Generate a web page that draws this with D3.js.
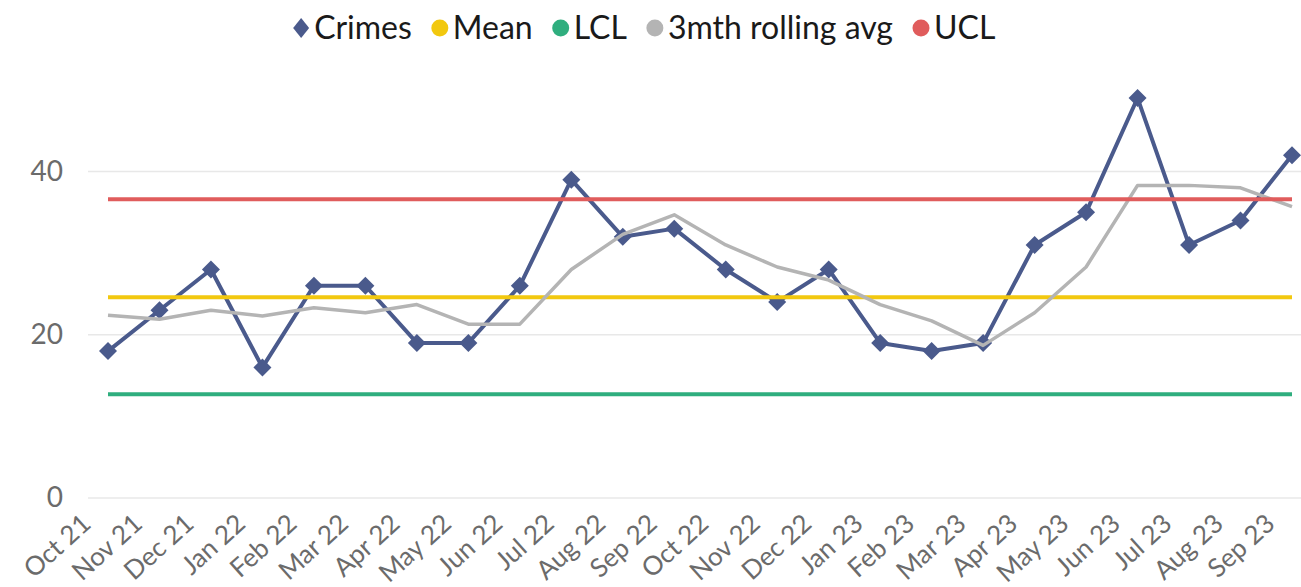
<!DOCTYPE html>
<html>
<head>
<meta charset="utf-8">
<script src="https://cdn.jsdelivr.net/npm/d3@7"></script>
<style>
  body { margin: 0; background: #fff; }
  text { font-family: Lato, "Open Sans", sans-serif; }
</style>
</head>
<body>
<div id="chart"></div>
<script>
// Datos
const months = ['Oct 21', 'Nov 21', 'Dec 21', 'Jan 22', 'Feb 22', 'Mar 22', 'Apr 22', 'May 22',
    'Jun 22', 'Jul 22', 'Aug 22', 'Sep 22', 'Oct 22', 'Nov 22', 'Dec 22', 'Jan 23',
    'Feb 23', 'Mar 23', 'Apr 23', 'May 23', 'Jun 23', 'Jul 23', 'Aug 23', 'Sep 23'];
const crimes = [18, 23, 28, 16, 26, 26, 19, 19, 26, 39, 32, 33, 28, 24, 28, 19, 18, 19, 31, 35, 49, 31, 34, 42];
const rollingAvg = [22.4, 21.9, 23.0, 22.3, 23.3, 22.7, 23.7, 21.3, 21.3, 28.0, 32.3, 34.7,
    31.0, 28.3, 26.7, 23.7, 21.7, 18.7, 22.7, 28.3, 38.3, 38.3, 38.0, 35.7];
const meanValue = 24.6;
const lclValue = 12.7;
const uclValue = 36.6;
const yTicks = [0, 20, 40];

const legendItems = [
    { name: 'Crimes', color: '#4a5a8c', shape: 'diamond' },
    { name: 'Mean', color: '#f2c80f', shape: 'circle' },
    { name: 'LCL', color: '#2fae7e', shape: 'circle' },
    { name: '3mth rolling avg', color: '#b4b4b4', shape: 'circle' },
    { name: 'UCL', color: '#e05c5c', shape: 'circle' }
];

const width = 1301;
const height = 587;

const svg = d3.select('#chart')
    .append('svg')
    .attr('width', width)
    .attr('height', height);

// Escalas
const x = d3.scalePoint()
    .domain(months)
    .range([108, 1292]);

const y = d3.scaleLinear()
    .domain([0, 40])
    .range([498, 171.5]);

// Lineas de cuadricula
svg.append('g')
    .selectAll('line')
    .data(yTicks)
    .join('line')
    .attr('x1', 88)
    .attr('x2', width)
    .attr('y1', d => y(d))
    .attr('y2', d => y(d))
    .attr('stroke', '#e8e8e8')
    .attr('stroke-width', 1.5);

// Eje Y
const yAxis = svg.append('g')
    .attr('transform', 'translate(63,0)')
    .call(d3.axisLeft(y).tickValues(yTicks).tickSize(0).tickPadding(0));
yAxis.select('.domain').remove();
yAxis.selectAll('text')
    .attr('fill', '#6b6b6b')
    .attr('font-size', 28)
    .attr('font-family', 'Lato, sans-serif');

// Eje X (etiquetas giradas)
const xAxis = svg.append('g')
    .attr('transform', 'translate(0,498)')
    .call(d3.axisBottom(x).tickSize(0).tickPadding(0));
xAxis.select('.domain').remove();
xAxis.selectAll('text')
    .attr('fill', '#6b6b6b')
    .attr('font-size', 26)
    .attr('font-family', 'Lato, sans-serif')
    .attr('text-anchor', 'end')
    .attr('dy', 0)
    .attr('y', 0)
    .attr('transform', 'translate(-16,28) rotate(-42)');

// Serie Crimes
const line = d3.line()
    .x((d, i) => x(months[i]))
    .y(d => y(d));

svg.append('path')
    .datum(crimes)
    .attr('d', line)
    .attr('fill', 'none')
    .attr('stroke', legendItems[0].color)
    .attr('stroke-width', 4)
    .attr('stroke-linejoin', 'round');

svg.append('g')
    .selectAll('path')
    .data(crimes)
    .join('path')
    .attr('d', 'M0,-9L9,0L0,9L-9,0Z')
    .attr('transform', (d, i) => `translate(${x(months[i])},${y(d)})`)
    .attr('fill', legendItems[0].color);

// Lineas de control
function lineaHorizontal(valor, color) {
    svg.append('path')
        .datum(months.map(() => valor))
        .attr('d', line)
        .attr('fill', 'none')
        .attr('stroke', color)
        .attr('stroke-width', 4);
}

lineaHorizontal(meanValue, legendItems[1].color);
lineaHorizontal(lclValue, legendItems[2].color);

svg.append('path')
    .datum(rollingAvg)
    .attr('d', line)
    .attr('fill', 'none')
    .attr('stroke', legendItems[3].color)
    .attr('stroke-width', 3.5)
    .attr('stroke-linejoin', 'round');

lineaHorizontal(uclValue, legendItems[4].color);

// Leyenda
const legend = svg.append('g');
let cursor = 0;
legendItems.forEach(item => {
    const g = legend.append('g').attr('transform', `translate(${cursor},0)`);
    if (item.shape === 'diamond') {
        g.append('path')
            .attr('d', 'M0,-10L8,0L0,10L-8,0Z')
            .attr('fill', item.color);
    } else {
        g.append('circle')
            .attr('r', 8.5)
            .attr('fill', item.color);
    }
    const t = g.append('text')
        .attr('x', 13)
        .attr('dy', '0.35em')
        .attr('font-size', 32)
        .attr('fill', '#1a1a1a')
        .text(item.name);
    cursor += 13 + t.node().getComputedTextLength() + 28;
});
const legendWidth = cursor - 28 + 8.5;
legend.attr('transform', `translate(${644 - legendWidth / 2 + 8.5},28)`);
</script>
</body>
</html>
